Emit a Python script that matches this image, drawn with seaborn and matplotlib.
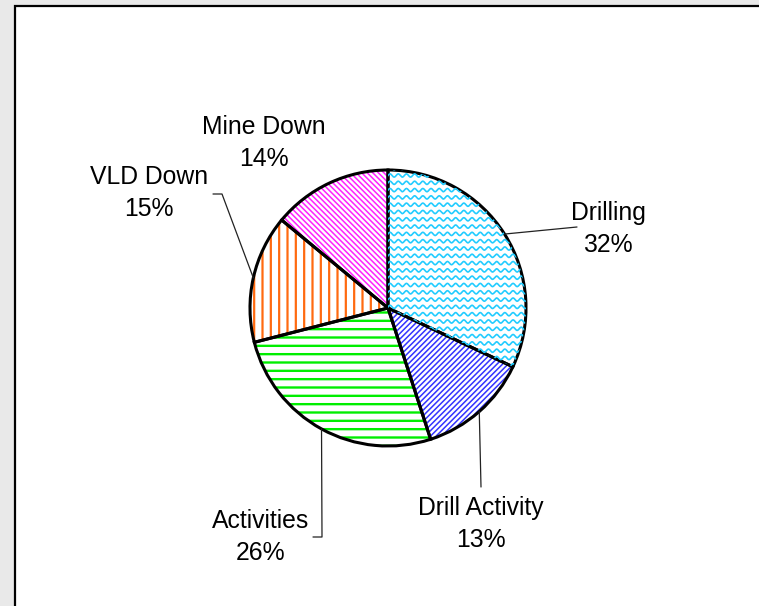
## Downtime breakdown pie chart with pattern fills

import numpy as np
import matplotlib
matplotlib.use("Agg")
import matplotlib.pyplot as plt
import seaborn as sns
from matplotlib.patches import Rectangle

# data
labels = ["Drilling", "Drill Activity", "Activities", "VLD Down", "Mine Down"]
shares = [32, 13, 26, 15, 14]

# pattern styles for each slice
hatch_colors = ["#22ccff", "#3333ff", "#00ee00", "#ff6a10", "#ff22ff"]
hatches = [None, "//////", "--", "||", "\\\\\\\\\\\\"]
hatch_widths = [1.0, 1.1, 1.7, 1.6, 1.1]

sns.set_theme(style="white")
plt.rcParams['font.family'] = ['Liberation Sans', 'DejaVu Sans']

W, H = 759, 606
CX, CY, R = 388, 308, 138      # pie centre and radius in pixels

fig = plt.figure(figsize=(W / 100, H / 100), dpi=100)
fig.patch.set_facecolor("#e9e9e9")

# white chart area with black border (left and top visible)
fig.patches.append(Rectangle((15 / W, -0.1), 1.2, 1.1 - 6.5 / H, transform=fig.transFigure,
                             facecolor="white", edgecolor="black", linewidth=1.6, zorder=-1))

ax = fig.add_axes([0, 0, 1, 1])


def px(x, y):
    # pixel position (top-left origin) -> data units of the pie
    return (x - CX) / R, (CY - y) / R


# coloured patterns first
wedges, _ = ax.pie(shares, startangle=90, counterclock=False, colors=["white"] * len(shares),
                   wedgeprops=dict(linewidth=0))
for w, h, c, hw in zip(wedges, hatches, hatch_colors, hatch_widths):
    if h:
        w.set_hatch(h)
        w.set_edgecolor(c)
        if hasattr(w, "set_hatch_linewidth"):
            w.set_hatch_linewidth(hw)
        else:
            w._hatch_linewidth = hw

# wavy pattern for Drilling, clipped to its wedge
xs = np.linspace(-1.05, 1.05, 800)
for y0 in np.arange(-1.05, 1.05, 7.3 / R):
    ln, = ax.plot(xs, y0 + (1.6 / R) * np.sin(2 * np.pi * xs / (8.2 / R)),
                  color=hatch_colors[0], lw=1.2)
    ln.set_clip_path(wedges[0])

# black outline on top
ax.pie(shares, startangle=90, counterclock=False, colors=["none"] * len(shares),
       wedgeprops=dict(linewidth=2.2, edgecolor="black", fill=False))

# mid angles of each wedge for the leader lines
ends = 90 - 360 * np.cumsum(shares) / sum(shares)
starts = np.r_[90, ends[:-1]]
mids = np.deg2rad((starts + ends) / 2)
anchors = [(np.cos(a), np.sin(a)) for a in mids]

# label centre and leader bends (pixels)
label_pos = [(608, 229), (481, 524), (261, 537), (149, 193), (264, 143)]
leader_bends = [[(577, 227)],
                [(481, 487)],
                [(322, 537), (313, 537)],
                [(222, 194), (213, 194)],
                []]

for lab, s, pos, bends, anc in zip(labels, shares, label_pos, leader_bends, anchors):
    if bends:
        pts = [anc] + [px(*b) for b in bends]
        ax.plot([p[0] for p in pts], [p[1] for p in pts], color="#222222", lw=0.9)
    tx, ty = px(*pos)
    ax.text(tx, ty, f"{lab}\n{s}%", ha="center", va="center", multialignment="center",
            fontsize=17.8, color="black", linespacing=1.45)

ax.set_xlim(-CX / R, (W - CX) / R)
ax.set_ylim(-(H - CY) / R, CY / R)
ax.set_aspect("auto")
ax.axis("off")

fig.savefig("out.png", dpi=100, facecolor=fig.get_facecolor())
